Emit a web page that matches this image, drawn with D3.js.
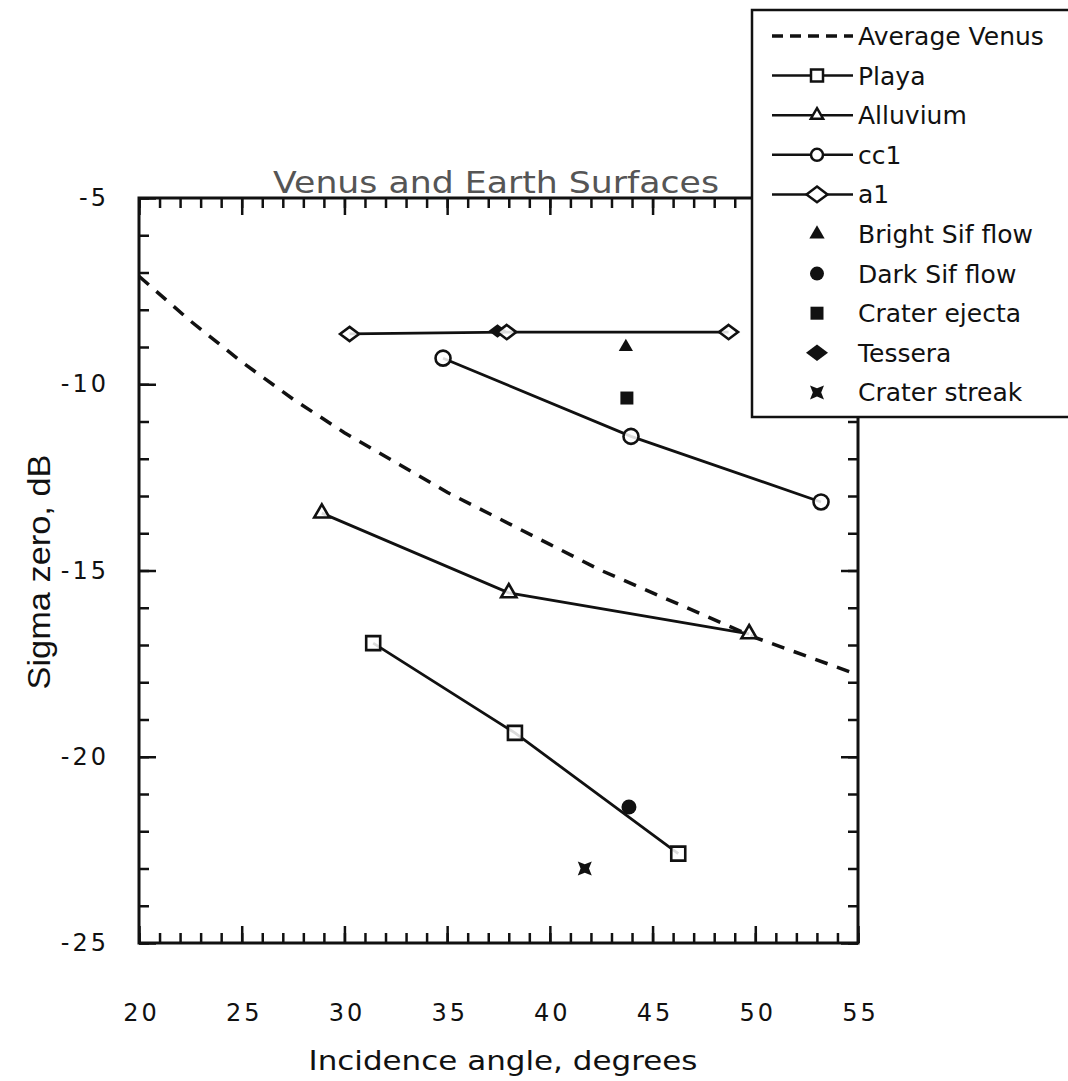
<!DOCTYPE html>
<html>
<head>
<meta charset="utf-8">
<script src="https://cdn.jsdelivr.net/npm/d3@7"></script>
<style>
  body { margin: 0; background: #fff; }
  svg { display: block; }
  .tick text { font-family: "DejaVu Sans", sans-serif; font-size: 24px; letter-spacing: 3px; fill: #111; }
  .tick line { stroke: #111; stroke-width: 2.5; }
</style>
</head>
<body>
<div id="chart"></div>
<script>
// Average Venus curve (dashed)
const venusX = [20, 22.5, 25, 27.5, 30, 32.5, 35, 37.5, 40, 42.5, 45, 47.5, 50, 52.5, 55];
const venusY = [-7.1, -8.3, -9.4, -10.4, -11.3, -12.1, -12.9, -13.6, -14.3, -15.0, -15.6, -16.2, -16.8, -17.3, -17.8];

const playaX = [31.4, 38.3, 46.25];
const playaY = [-16.95, -19.36, -22.6];
const alluviumX = [28.9, 38.0, 49.7];
const alluviumY = [-13.46, -15.6, -16.7];
const cc1X = [34.8, 43.95, 53.2];
const cc1Y = [-9.3, -11.4, -13.16];
const a1X = [30.25, 37.9, 48.7];
const a1Y = [-8.65, -8.6, -8.6];

// single Venus points
const pointNames = ["Bright Sif flow", "Dark Sif flow", "Crater ejecta", "Tessera", "Crater streak"];
const pointX = [43.7, 43.85, 43.75, 37.45, 41.7];
const pointY = [-9.0, -21.35, -10.37, -8.57, -23.0];

const legendLabels = ["Average Venus", "Playa", "Alluvium", "cc1", "a1",
  "Bright Sif flow", "Dark Sif flow", "Crater ejecta", "Tessera", "Crater streak"];

const xTicks = [20, 25, 30, 35, 40, 45, 50, 55];
const yTicks = [-5, -10, -15, -20, -25];

const width = 1068, height = 1081;
const mLeft = 139, mRight = 858, mTop = 198, mBottom = 943;

const svg = d3.select("#chart").append("svg")
  .attr("width", width)
  .attr("height", height);

const x = d3.scaleLinear().domain([20, 55]).range([mLeft, mRight]);
const y = d3.scaleLinear().domain([-25, -5]).range([mBottom, mTop]);

const minorX = d3.range(20, 56, 1);
const minorY = d3.range(-25, -4, 1);
const plain = d => String(d);

function styleAxis(g) {
  g.select(".domain").remove();
}

// minor ticks
svg.append("g").attr("transform", `translate(0,${mBottom})`)
  .call(d3.axisBottom(x).tickValues(minorX).tickSize(-10).tickFormat(""))
  .call(styleAxis);
svg.append("g").attr("transform", `translate(0,${mTop})`)
  .call(d3.axisTop(x).tickValues(minorX).tickSize(-10).tickFormat(""))
  .call(styleAxis);
svg.append("g").attr("transform", `translate(${mLeft},0)`)
  .call(d3.axisLeft(y).tickValues(minorY).tickSize(-10).tickFormat(""))
  .call(styleAxis);
svg.append("g").attr("transform", `translate(${mRight},0)`)
  .call(d3.axisRight(y).tickValues(minorY).tickSize(-10).tickFormat(""))
  .call(styleAxis);

// major ticks + labels
svg.append("g").attr("transform", `translate(0,${mBottom})`)
  .call(d3.axisBottom(x).tickValues(xTicks).tickSize(-17).tickPadding(61).tickFormat(plain))
  .call(styleAxis)
  .selectAll("text").attr("dx", "2px");
svg.append("g").attr("transform", `translate(0,${mTop})`)
  .call(d3.axisTop(x).tickValues(xTicks).tickSize(-17).tickFormat(""))
  .call(styleAxis);
svg.append("g").attr("transform", `translate(${mLeft},0)`)
  .call(d3.axisLeft(y).tickValues(yTicks).tickSize(-17).tickPadding(30).tickFormat(plain))
  .call(styleAxis);
svg.append("g").attr("transform", `translate(${mRight},0)`)
  .call(d3.axisRight(y).tickValues(yTicks).tickSize(-17).tickFormat(""))
  .call(styleAxis);

// frame
svg.append("rect")
  .attr("x", mLeft).attr("y", mTop)
  .attr("width", mRight - mLeft).attr("height", mBottom - mTop)
  .attr("fill", "none").attr("stroke", "#111").attr("stroke-width", 3);

const line = d3.line().x(d => x(d[0])).y(d => y(d[1]));
const zip = (a, b) => a.map((v, i) => [v, b[i]]);

// dashed Average Venus
svg.append("path")
  .attr("d", line(zip(venusX, venusY)))
  .attr("fill", "none").attr("stroke", "#111")
  .attr("stroke-width", 3.5).attr("stroke-dasharray", "13 10");

// symbol shapes
function sym(kind, size) {
  const h = size / 2;
  if (kind === "square") return d3.symbol(d3.symbolSquare, size * size)();
  if (kind === "triangle") return d3.symbol(d3.symbolTriangle, size * size * 0.45)();
  if (kind === "circle") return d3.symbol(d3.symbolCircle, Math.PI * size * size / 4)();
  if (kind === "diamond") return `M0,${-h * 0.75}L${h},0L0,${h * 0.75}L${-h},0Z`;
  if (kind === "streak") {
    const n = h * 0.6;
    return `M${-h},${-h}L0,${-n}L${h},${-h}L${n},0L${h},${h}L0,${n}L${-h},${h}L${-n},0Z`;
  }
}

const series = [
  { xs: playaX, ys: playaY, kind: "square", size: 14 },
  { xs: alluviumX, ys: alluviumY, kind: "triangle", size: 15 },
  { xs: cc1X, ys: cc1Y, kind: "circle", size: 15 },
  { xs: a1X, ys: a1Y, kind: "diamond", size: 19 }
];

series.forEach(s => {
  svg.append("path")
    .attr("d", line(zip(s.xs, s.ys)))
    .attr("fill", "none").attr("stroke", "#111").attr("stroke-width", 2.8);
});

const pointKinds = ["triangle", "circle", "square", "diamond", "streak"];
const pointSizes = [14, 15, 13, 18, 14];

// Tessera sits under the a1 marker
svg.append("g").selectAll("path")
  .data(zip(pointX, pointY).map((p, i) => ({ p, kind: pointKinds[i], size: pointSizes[i] })))
  .join("path")
  .attr("transform", d => `translate(${x(d.p[0])},${y(d.p[1])})`)
  .attr("d", d => sym(d.kind, d.size))
  .attr("fill", "#111");

series.forEach(s => {
  svg.append("g").selectAll("path")
    .data(zip(s.xs, s.ys))
    .join("path")
    .attr("transform", d => `translate(${x(d[0])},${y(d[1])})`)
    .attr("d", sym(s.kind, s.size))
    .attr("fill", "#fff").attr("fill-opacity", 0.85)
    .attr("stroke", "#111").attr("stroke-width", 2.6);
});

// title
svg.append("text")
  .attr("x", 496).attr("y", 193)
  .attr("text-anchor", "middle")
  .attr("textLength", 446).attr("lengthAdjust", "spacingAndGlyphs")
  .style("font-family", "DejaVu Sans, sans-serif")
  .style("font-size", "31px")
  .attr("fill", "#555")
  .text("Venus and Earth Surfaces");

// axis titles
svg.append("text")
  .attr("x", 503).attr("y", 1070)
  .attr("text-anchor", "middle")
  .attr("textLength", 389).attr("lengthAdjust", "spacingAndGlyphs")
  .style("font-family", "DejaVu Sans, sans-serif")
  .style("font-size", "27px")
  .attr("fill", "#111")
  .text("Incidence angle, degrees");

svg.append("text")
  .attr("transform", "translate(50,572) rotate(-90)")
  .attr("text-anchor", "middle")
  .attr("textLength", 235).attr("lengthAdjust", "spacingAndGlyphs")
  .style("font-family", "Liberation Sans, sans-serif")
  .style("font-size", "32px")
  .attr("fill", "#111")
  .text("Sigma zero, dB");

// legend
const lg = svg.append("g");
lg.append("rect")
  .attr("x", 752).attr("y", 10).attr("width", 330).attr("height", 407)
  .attr("fill", "#fff").attr("stroke", "#111").attr("stroke-width", 2.5);

const legendKinds = [null, "square", "triangle", "circle", "diamond",
  "triangle", "circle", "square", "diamond", "streak"];
const legendSizes = [0, 12, 12, 12, 21, 15, 14, 13, 22, 14];

legendLabels.forEach((lab, i) => {
  const ry = 36 + i * 39.6;
  if (i < 5) {
    lg.append("line")
      .attr("x1", 772).attr("x2", 853).attr("y1", ry).attr("y2", ry)
      .attr("stroke", "#111")
      .attr("stroke-width", i === 0 ? 3.5 : 2.5)
      .attr("stroke-dasharray", i === 0 ? "11 7" : null);
  }
  if (legendKinds[i]) {
    const filled = i >= 5;
    lg.append("path")
      .attr("transform", `translate(817,${ry})`)
      .attr("d", sym(legendKinds[i], legendSizes[i]))
      .attr("fill", filled ? "#111" : "#fff")
      .attr("stroke", filled ? "none" : "#111")
      .attr("stroke-width", 2.5);
  }
  lg.append("text")
    .attr("x", 858).attr("y", ry).attr("dy", "0.36em")
    .style("font-family", "DejaVu Sans, sans-serif")
    .style("font-size", "25px")
    .attr("fill", "#111")
    .text(lab);
});
</script>
</body>
</html>
